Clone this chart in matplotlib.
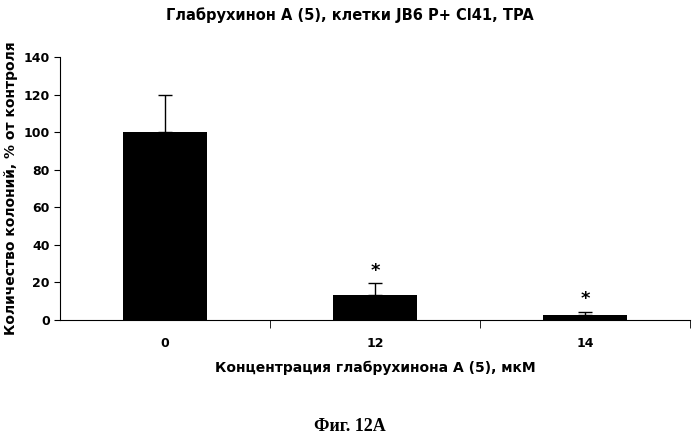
import matplotlib
matplotlib.use("Agg")
import matplotlib.pyplot as plt
import numpy as np

categories = ["0", "12", "14"]
values = [100, 13.5, 2.5]
errors = [20, 6, 2]
signif = ["", "*", "*"]

fig = plt.figure(figsize=(6.99, 4.42), dpi=100)
ax = fig.add_axes([0.086, 0.276, 0.901, 0.595])
x = np.arange(len(categories))
ax.bar(x, values, width=0.4, color="black", zorder=2)
ax.errorbar(x, values, yerr=[np.zeros(len(errors)), errors], fmt="none",
            ecolor="black", elinewidth=1, capsize=5, capthick=1, zorder=3)
for xi, v, e, s in zip(x, values, errors, signif):
    if s:
        ax.text(xi, v + e + 2, s, ha="center", va="bottom", fontsize=13, fontweight="bold")

ax.set_xlim(-0.5, 2.5)
ax.set_ylim(0, 140)
ax.set_yticks(range(0, 141, 20))
ax.set_xticks(x)
ax.set_xticklabels(categories, fontsize=9, fontweight="bold")
ax.tick_params(axis="x", length=0, pad=12)
ax.set_xticks([0.5, 1.5, 2.5], minor=True)
ax.tick_params(axis="x", which="minor", length=6, direction="out")
ax.tick_params(axis="y", labelsize=9, direction="out", length=4)
for lbl in ax.get_yticklabels():
    lbl.set_fontweight("bold")
ax.spines["top"].set_visible(False)
ax.spines["right"].set_visible(False)
ax.set_ylabel("Количество колоний, % от контроля", fontsize=10, fontweight="bold")
ax.set_xlabel("Концентрация глабрухинона А (5), мкМ", fontsize=10, fontweight="bold", labelpad=8)
fig.text(0.5, 0.965, "Глабрухинон А (5), клетки JB6 P+ Cl41, TPA", ha="center",
         va="center", fontsize=10.5, fontweight="bold")
fig.text(0.5, 0.035, "Фиг. 12А", ha="center", va="center", fontsize=13,
         fontweight="bold", family="Liberation Serif")
fig.savefig("out.png", dpi=100)
